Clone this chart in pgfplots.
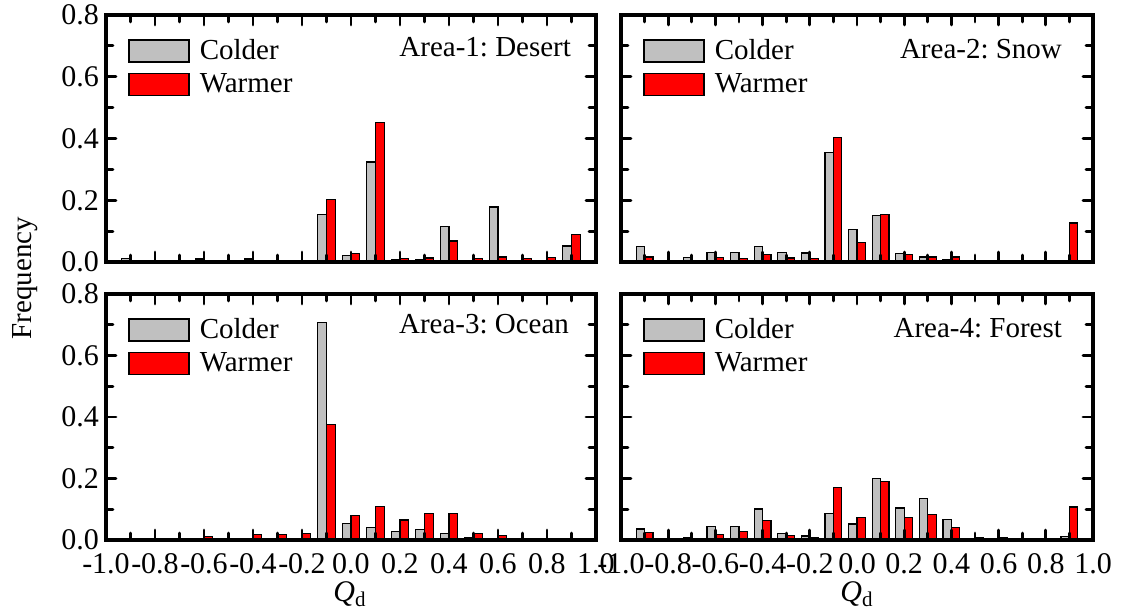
\documentclass[border=0pt]{standalone}
\usepackage{fontspec}
\setmainfont{Liberation Serif}
\usepackage{pgfplots}
\usepackage{pgfplotstable}
\pgfplotsset{compat=1.18}
\frenchspacing

% x = bin centre, c = colder, w = warmer
\pgfplotstableread{
x c w
-0.9 0.012 0.003
-0.8 0.000 0.000
-0.7 0.000 0.000
-0.6 0.010 0.002
-0.5 0.000 0.000
-0.4 0.010 0.002
-0.3 0.000 0.000
-0.2 0.001 0.001
-0.1 0.155 0.203
0.0 0.022 0.027
0.1 0.324 0.451
0.2 0.008 0.011
0.3 0.007 0.013
0.4 0.116 0.068
0.5 0.005 0.011
0.6 0.178 0.016
0.7 0.003 0.011
0.8 0.003 0.014
0.9 0.052 0.089
}\desert
\pgfplotstableread{
x c w
-0.9 0.049 0.016
-0.8 0.005 0.003
-0.7 0.014 0.004
-0.6 0.031 0.014
-0.5 0.031 0.012
-0.4 0.051 0.023
-0.3 0.031 0.013
-0.2 0.029 0.011
-0.1 0.354 0.402
0.0 0.105 0.062
0.1 0.151 0.155
0.2 0.027 0.024
0.3 0.016 0.016
0.4 0.008 0.016
0.5 0.000 0.000
0.6 0.000 0.004
0.7 0.000 0.000
0.8 0.000 0.000
0.9 0.004 0.126
}\snow
\pgfplotstableread{
x c w
-0.9 0.000 0.005
-0.8 0.000 0.000
-0.7 0.000 0.000
-0.6 0.003 0.012
-0.5 0.002 0.003
-0.4 0.005 0.017
-0.3 0.005 0.017
-0.2 0.005 0.022
-0.1 0.708 0.376
0.0 0.054 0.079
0.1 0.041 0.109
0.2 0.028 0.065
0.3 0.033 0.085
0.4 0.022 0.085
0.5 0.009 0.022
0.6 0.002 0.015
0.7 0.000 0.002
0.8 0.004 0.004
0.9 0.004 0.004
}\ocean
\pgfplotstableread{
x c w
-0.9 0.036 0.024
-0.8 0.000 0.000
-0.7 0.007 0.003
-0.6 0.043 0.017
-0.5 0.043 0.027
-0.4 0.101 0.063
-0.3 0.020 0.014
-0.2 0.013 0.007
-0.1 0.085 0.172
0.0 0.052 0.072
0.1 0.201 0.190
0.2 0.104 0.072
0.3 0.135 0.082
0.4 0.066 0.041
0.5 0.000 0.009
0.6 0.000 0.007
0.7 0.000 0.003
0.8 0.000 0.002
0.9 0.011 0.107
}\forest

\definecolor{coldgray}{RGB}{192,192,192}
\definecolor{warmred}{RGB}{255,0,0}

\pgfplotsset{
  panel/.style={
    scale only axis,
    anchor=north west,
    xmin=-1, xmax=1, ymin=0, ymax=0.8,
    ybar, bar width=0.036,
    axis on top,
    font=\fontsize{14.5}{16}\selectfont,
    tick label style={font=\fontsize{15}{17}\selectfont},
    xticklabel style={yshift=-3pt},
    xtick={-1,-0.8,-0.6,-0.4,-0.2,0,0.2,0.4,0.6,0.8,1},
    minor xtick={-0.9,-0.7,-0.5,-0.3,-0.1,0.1,0.3,0.5,0.7,0.9},
    ytick={0,0.2,0.4,0.6,0.8},
    minor ytick={0.1,0.3,0.5,0.7},
    xticklabels={},
    yticklabels={},
    tick align=inside,
    major tick length=5pt,
    minor tick length=3.5pt,
    every tick/.style={black, line width=1.4pt, line cap=round},
    axis line style={line width=1.6pt},
    legend style={at={(0,1)}, anchor=north west, xshift=8pt, yshift=-8pt,
      draw=none, fill=none, row sep=1.5pt, font=\fontsize{14.5}{16}\selectfont},
    legend cell align=left,
    legend image code/.code={\draw[#1, line width=0.8pt] (0pt,-5.5pt) rectangle (30pt,5.5pt); \path (33pt,0pt);},
  },
  coldbar/.style={fill=coldgray, draw=black, line width=0.6pt, bar shift=-0.018},
  warmbar/.style={fill=warmred, draw=black, line width=0.6pt, bar shift=0.018},
  bottomrow/.style={xticklabels={-1.0,-0.8,-0.6,-0.4,-0.2,0.0,0.2,0.4,0.6,0.8,1.0}},
  leftcol/.style={yticklabels={0.0,0.2,0.4,0.6,0.8}},
}

\begin{document}
\begin{tikzpicture}
\useasboundingbox (0,0) rectangle (574pt,-307pt);

\begin{axis}[panel, leftcol, at={(53pt,-7.5pt)}, width=245pt, height=123.5pt]
\addplot[coldbar] table[x=x, y=c] {\desert};
\addplot[warmbar] table[x=x, y=w] {\desert};
\legend{Colder,Warmer}
\node[anchor=east, font=\fontsize{14.5}{16}\selectfont] at (rel axis cs:1,1) [xshift=-9pt, yshift=-16pt] {Area-1: Desert};
\end{axis}

\begin{axis}[panel, at={(310.5pt,-7.5pt)}, width=236pt, height=123.5pt]
\addplot[coldbar] table[x=x, y=c] {\snow};
\addplot[warmbar] table[x=x, y=w] {\snow};
\legend{Colder,Warmer}
\node[anchor=east, font=\fontsize{14.5}{16}\selectfont] at (rel axis cs:1,1) [xshift=-12pt, yshift=-17pt] {Area-2: Snow};
\end{axis}

\begin{axis}[panel, leftcol, bottomrow, at={(53pt,-147pt)}, width=245pt, height=123pt]
\addplot[coldbar] table[x=x, y=c] {\ocean};
\addplot[warmbar] table[x=x, y=w] {\ocean};
\legend{Colder,Warmer}
\node[anchor=east, font=\fontsize{14.5}{16}\selectfont] at (rel axis cs:1,1) [xshift=-10pt, yshift=-15pt] {Area-3: Ocean};
\end{axis}

\begin{axis}[panel, bottomrow, at={(310.5pt,-147pt)}, width=236pt, height=123pt]
\addplot[coldbar] table[x=x, y=c] {\forest};
\addplot[warmbar] table[x=x, y=w] {\forest};
\legend{Colder,Warmer}
\node[anchor=east, font=\fontsize{14.5}{16}\selectfont] at (rel axis cs:1,1) [xshift=-12pt, yshift=-17pt] {Area-4: Forest};
\end{axis}

\node[rotate=90, font=\fontsize{14.5}{16}\selectfont] at (12.5pt,-139pt) {Frequency};
\node[font=\fontsize{15}{17}\selectfont] at (175pt,-297pt) {\textit{Q}\textsubscript{d}};
\node[font=\fontsize{15}{17}\selectfont] at (428.5pt,-297pt) {\textit{Q}\textsubscript{d}};
\end{tikzpicture}
\end{document}
